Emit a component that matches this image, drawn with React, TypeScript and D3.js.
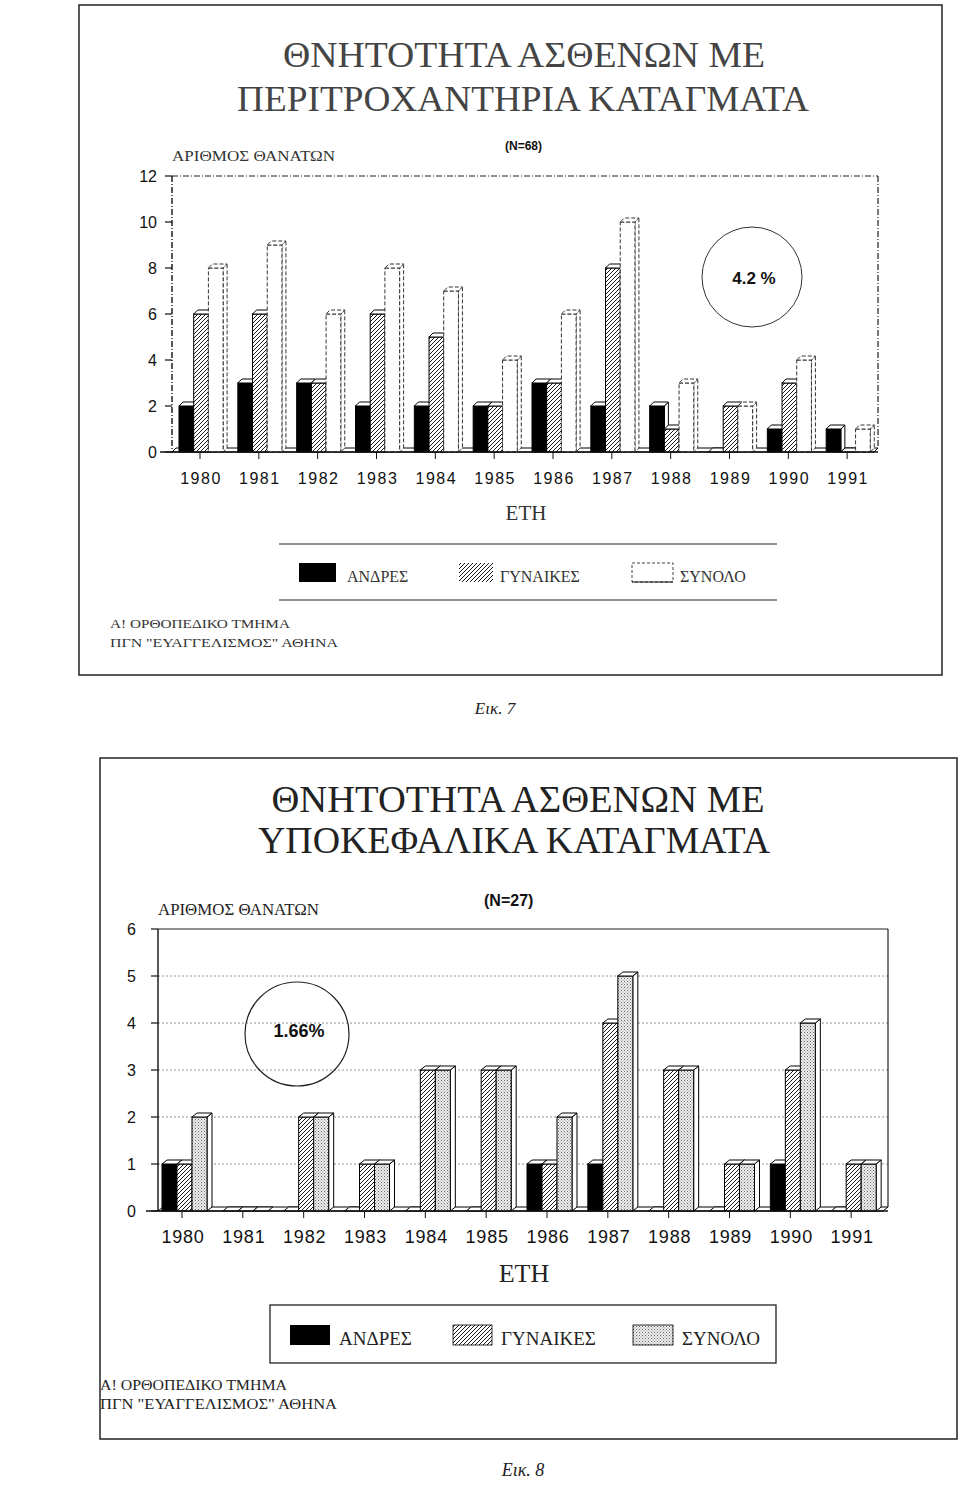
import React from 'react';
import * as d3 from 'd3';

// ---------- DATA ----------
const years = ['1980', '1981', '1982', '1983', '1984', '1985', '1986', '1987', '1988', '1989', '1990', '1991'];
const seriesNames = ['ΑΝΔΡΕΣ', 'ΓΥΝΑΙΚΕΣ', 'ΣΥΝΟΛΟ'];

// Fig. 7 – peritrochanteric fractures (N=68)
const fig7Men = [2, 3, 3, 2, 2, 2, 3, 2, 2, 0, 1, 1];
const fig7Women = [6, 6, 3, 6, 5, 2, 3, 8, 1, 2, 3, 0];
const fig7Total = [8, 9, 6, 8, 7, 4, 6, 10, 3, 2, 4, 1];
const fig7Ticks = [0, 2, 4, 6, 8, 10, 12];

// Fig. 8 – subcapital fractures (N=27)
const fig8Men = [1, 0, 0, 0, 0, 0, 1, 1, 0, 0, 1, 0];
const fig8Women = [1, 0, 2, 1, 3, 3, 1, 4, 3, 1, 3, 1];
const fig8Total = [2, 0, 2, 1, 3, 3, 2, 5, 3, 1, 4, 1];
const fig8Ticks = [0, 1, 2, 3, 4, 5, 6];

const SERIF = '"Liberation Serif", "DejaVu Serif", serif';
const SANS = '"Liberation Sans", Arial, sans-serif';

type Cfg = {
  men: number[];
  women: number[];
  total: number[];
  ticks: number[];
  x0: number; x1: number; y0: number; y1: number;
  barOff: number; barW: number; dx: number; dy: number;
  tickOff: number;
  totalFill: string; totalDash: string | null;
  grid: boolean;
  axisDash: string | null;
  yLabelFont: string; yLabelSize: number; yLabelX: number;
  xLabelFont: string; xLabelSize: number; xLabelY: number; xLabelSpacing: number;
};

function Bars3D({ c }: { c: Cfg }) {
  const x = d3.scaleBand<string>().domain(years).range([c.x0, c.x1]).padding(0);
  const y = d3.scaleLinear().domain([0, c.ticks[c.ticks.length - 1]]).range([c.y0, c.y1]);
  const sub = d3.scaleBand<string>().domain(seriesNames).range([0, c.barW * 3]).padding(0);
  const fills = ['#000', 'url(#hatch)', c.totalFill];
  const vals = [c.men, c.women, c.total];
  const base = y(0);
  const { dx, dy } = c;
  const pts = (p: [number, number][]) => p.map((q) => q.join(',')).join(' ');

  const bars: React.ReactNode[] = [];
  years.forEach((yr, i) => {
    seriesNames.forEach((s, k) => {
      const v = vals[k][i];
      const bx = (x(yr) as number) + c.barOff + (sub(s) as number);
      const w = sub.bandwidth();
      const top = y(v);
      const dash = k === 2 && c.totalDash ? c.totalDash : undefined;
      const sc = k === 2 && c.totalDash ? '#333' : '#000';
      bars.push(
        <g key={yr + s}>
          {v > 0 && (
            <polygon
              points={pts([[bx + w, top], [bx + w + dx, top - dy], [bx + w + dx, base - dy], [bx + w, base]])}
              fill="#fff" stroke={sc} strokeWidth={1} strokeDasharray={dash} />
          )}
          {v > 0 && (
            <rect x={bx} y={top} width={w} height={base - top} fill={fills[k]} stroke={sc} strokeWidth={1} strokeDasharray={dash} />
          )}
          <polygon
            points={pts([[bx, top], [bx + w, top], [bx + w + dx, top - dy], [bx + dx, top - dy]])}
            fill="#fff" stroke={sc} strokeWidth={1} strokeDasharray={dash} />
        </g>
      );
    });
  });

  return (
    <g>
      {c.grid &&
        c.ticks.slice(1, -1).map((t) => (
          <line key={'g' + t} x1={c.x0} x2={c.x1} y1={y(t)} y2={y(t)} stroke="#777" strokeWidth={0.8} strokeDasharray="2,2" />
        ))}
      {/* plot frame top and right */}
      <line x1={c.x0} x2={c.x1} y1={y(c.ticks[c.ticks.length - 1])} y2={y(c.ticks[c.ticks.length - 1])}
        stroke="#222" strokeWidth={1.2} strokeDasharray={c.axisDash || undefined} />
      <line x1={c.x1} x2={c.x1} y1={y(c.ticks[c.ticks.length - 1])} y2={base - dy}
        stroke="#222" strokeWidth={1.2} strokeDasharray={c.axisDash || undefined} />
      {/* floor */}
      <polygon
        points={pts([[c.x0, base], [c.x1 - dx, base], [c.x1, base - dy], [c.x0 + dx, base - dy]])}
        fill="#fff" stroke="#000" strokeWidth={1} />
      {bars}
      {/* y axis */}
      <line x1={c.x0} x2={c.x0} y1={y(c.ticks[c.ticks.length - 1])} y2={base} stroke="#111" strokeWidth={1.4}
        strokeDasharray={c.axisDash || undefined} />
      <line x1={c.x0 - 12} x2={c.x1} y1={base} y2={base} stroke="#111" strokeWidth={1.4} />
      {c.ticks.map((t) => (
        <g key={'t' + t}>
          <line x1={c.x0 - 7} x2={c.x0} y1={y(t)} y2={y(t)} stroke="#111" strokeWidth={1.2} />
          <text x={c.yLabelX} y={y(t)} dy="0.35em" textAnchor="end" fontFamily={c.yLabelFont} fontSize={c.yLabelSize} fill="#111">
            {t}
          </text>
        </g>
      ))}
      {years.map((yr) => {
        const tx = (x(yr) as number) + c.tickOff;
        return (
          <g key={'x' + yr}>
            <line x1={tx} x2={tx} y1={base} y2={base + 7} stroke="#111" strokeWidth={1} />
            <text x={tx + 1} y={c.xLabelY} textAnchor="middle" fontFamily={c.xLabelFont} fontSize={c.xLabelSize}
              letterSpacing={c.xLabelSpacing} fill="#111">
              {yr}
            </text>
          </g>
        );
      })}
    </g>
  );
}

const fig7: Cfg = {
  men: fig7Men, women: fig7Women, total: fig7Total, ticks: fig7Ticks,
  x0: 172, x1: 878, y0: 452, y1: 176,
  barOff: 7, barW: 14.7, dx: 4, dy: 4, tickOff: 28,
  totalFill: '#fff', totalDash: '4,2', grid: false, axisDash: '6,2,1,2',
  yLabelFont: SANS, yLabelSize: 16, yLabelX: 157,
  xLabelFont: SANS, xLabelSize: 16, xLabelY: 484, xLabelSpacing: 1.5,
};

const fig8: Cfg = {
  men: fig8Men, women: fig8Women, total: fig8Total, ticks: fig8Ticks,
  x0: 158, x1: 888, y0: 1211, y1: 929,
  barOff: 4, barW: 15, dx: 5, dy: 4, tickOff: 24,
  totalFill: 'url(#stipple)', totalDash: null, grid: true, axisDash: null,
  yLabelFont: SANS, yLabelSize: 16, yLabelX: 136,
  xLabelFont: SANS, xLabelSize: 18, xLabelY: 1243, xLabelSpacing: 0.8,
};

export default function App() {
  return (
    <svg width={960} height={1498} style={{ position: 'absolute', left: 0, top: 0, background: '#fff' }}>
      <defs>
        <pattern id="hatch" patternUnits="userSpaceOnUse" width={4} height={4}>
          <rect width={4} height={4} fill="#fff" />
          <path d="M-1,1 l2,-2 M0,4 l4,-4 M3,5 l2,-2" stroke="#000" strokeWidth={0.9} />
        </pattern>
        <pattern id="stipple" patternUnits="userSpaceOnUse" width={3} height={3}>
          <rect width={3} height={3} fill="#eee" />
          <rect x={0} y={0} width={1} height={1} fill="#666" />
          <rect x={1.5} y={1.5} width={1} height={1} fill="#888" />
        </pattern>
      </defs>

      {/* ===== Fig 7 ===== */}
      <rect x={79} y={5} width={863} height={670} fill="none" stroke="#222" strokeWidth={1.5} />
      <text x={524} y={67} textAnchor="middle" fontFamily={SERIF} fontSize={36} textLength={482} lengthAdjust="spacingAndGlyphs" fill="#444">
        ΘΝΗΤΟΤΗΤΑ ΑΣΘΕΝΩΝ ΜΕ
      </text>
      <text x={523} y={111} textAnchor="middle" fontFamily={SERIF} fontSize={36} textLength={572} lengthAdjust="spacingAndGlyphs" fill="#444">
        ΠΕΡΙΤΡΟΧΑΝΤΗΡΙΑ ΚΑΤΑΓΜΑΤΑ
      </text>
      <text x={172} y={161} fontFamily={SERIF} fontSize={15} textLength={163} lengthAdjust="spacingAndGlyphs" fill="#333">
        ΑΡΙΘΜΟΣ ΘΑΝΑΤΩΝ
      </text>
      <text x={505} y={150} fontFamily={SANS} fontWeight="bold" fontSize={12} fill="#111">(N=68)</text>
      <Bars3D c={fig7} />
      <circle cx={752} cy={277} r={50} fill="none" stroke="#333" strokeWidth={1} />
      <text x={754} y={284} textAnchor="middle" fontFamily={SANS} fontWeight="bold" fontSize={17} fill="#111">4.2 %</text>
      <text x={526} y={520} textAnchor="middle" fontFamily={SERIF} fontSize={21} fill="#333">ΕΤΗ</text>
      {/* legend 7 */}
      <line x1={279} x2={777} y1={544} y2={544} stroke="#222" strokeWidth={1.2} />
      <line x1={279} x2={777} y1={600} y2={600} stroke="#222" strokeWidth={1.2} />
      <rect x={299} y={563} width={37} height={19} fill="#000" />
      <text x={347} y={582} fontFamily={SERIF} fontSize={16} fill="#333">{seriesNames[0]}</text>
      <rect x={459} y={563} width={34} height={19} fill="url(#hatch)" />
      <text x={500} y={582} fontFamily={SERIF} fontSize={16} fill="#333">{seriesNames[1]}</text>
      <rect x={632} y={563} width={41} height={19} fill="#fff" stroke="#444" strokeDasharray="3,2" />
      <line x1={632} x2={673} y1={582} y2={582} stroke="#111" strokeWidth={1.2} />
      <text x={680} y={582} fontFamily={SERIF} fontSize={16} fill="#333">{seriesNames[2]}</text>
      <text x={110} y={628} fontFamily={SERIF} fontSize={13} textLength={180} lengthAdjust="spacingAndGlyphs" fill="#333">
        Α! ΟΡΘΟΠΕΔΙΚΟ ΤΜΗΜΑ
      </text>
      <text x={110} y={647} fontFamily={SERIF} fontSize={13} textLength={228} lengthAdjust="spacingAndGlyphs" fill="#333">
        ΠΓΝ "ΕΥΑΓΓΕΛΙΣΜΟΣ" ΑΘΗΝΑ
      </text>
      <text x={495} y={714} textAnchor="middle" fontFamily={SERIF} fontStyle="italic" fontSize={17} fill="#222">Εικ. 7</text>

      {/* ===== Fig 8 ===== */}
      <rect x={100} y={758} width={857} height={681} fill="none" stroke="#222" strokeWidth={1.5} />
      <text x={518} y={812} textAnchor="middle" fontFamily={SERIF} fontSize={37} textLength={493} lengthAdjust="spacingAndGlyphs" fill="#222">
        ΘΝΗΤΟΤΗΤΑ ΑΣΘΕΝΩΝ ΜΕ
      </text>
      <text x={514} y={853} textAnchor="middle" fontFamily={SERIF} fontSize={37} textLength={512} lengthAdjust="spacingAndGlyphs" fill="#222">
        ΥΠΟΚΕΦΑΛΙΚΑ ΚΑΤΑΓΜΑΤΑ
      </text>
      <text x={158} y={915} fontFamily={SERIF} fontSize={16} textLength={161} lengthAdjust="spacingAndGlyphs" fill="#222">
        ΑΡΙΘΜΟΣ ΘΑΝΑΤΩΝ
      </text>
      <text x={484} y={906} fontFamily={SANS} fontWeight="bold" fontSize={16} fill="#111">(N=27)</text>
      <Bars3D c={fig8} />
      <circle cx={297} cy={1034} r={52} fill="#fff" fillOpacity={0} stroke="#222" strokeWidth={1.2} />
      <text x={299} y={1037} textAnchor="middle" fontFamily={SANS} fontWeight="bold" fontSize={18} fill="#111">1.66%</text>
      <text x={524} y={1282} textAnchor="middle" fontFamily={SERIF} fontSize={26} fill="#222">ΕΤΗ</text>
      {/* legend 8 */}
      <rect x={270} y={1305} width={506} height={58} fill="none" stroke="#222" strokeWidth={1.3} />
      <rect x={290} y={1325} width={40} height={20} fill="#000" />
      <text x={339} y={1345} fontFamily={SERIF} fontSize={19} fill="#222">{seriesNames[0]}</text>
      <rect x={453} y={1325} width={39} height={20} fill="url(#hatch)" stroke="#000" strokeWidth={0.8} />
      <text x={501} y={1345} fontFamily={SERIF} fontSize={19} fill="#222">{seriesNames[1]}</text>
      <rect x={633} y={1325} width={40} height={20} fill="url(#stipple)" stroke="#000" strokeWidth={0.8} />
      <text x={682} y={1345} fontFamily={SERIF} fontSize={19} fill="#222">{seriesNames[2]}</text>
      <text x={100} y={1390} fontFamily={SERIF} fontSize={14} textLength={187} lengthAdjust="spacingAndGlyphs" fill="#222">
        Α! ΟΡΘΟΠΕΔΙΚΟ ΤΜΗΜΑ
      </text>
      <text x={100} y={1409} fontFamily={SERIF} fontSize={14} textLength={237} lengthAdjust="spacingAndGlyphs" fill="#222">
        ΠΓΝ "ΕΥΑΓΓΕΛΙΣΜΟΣ" ΑΘΗΝΑ
      </text>
      <text x={523} y={1476} textAnchor="middle" fontFamily={SERIF} fontStyle="italic" fontSize={18} fill="#222">Εικ. 8</text>
    </svg>
  );
}
